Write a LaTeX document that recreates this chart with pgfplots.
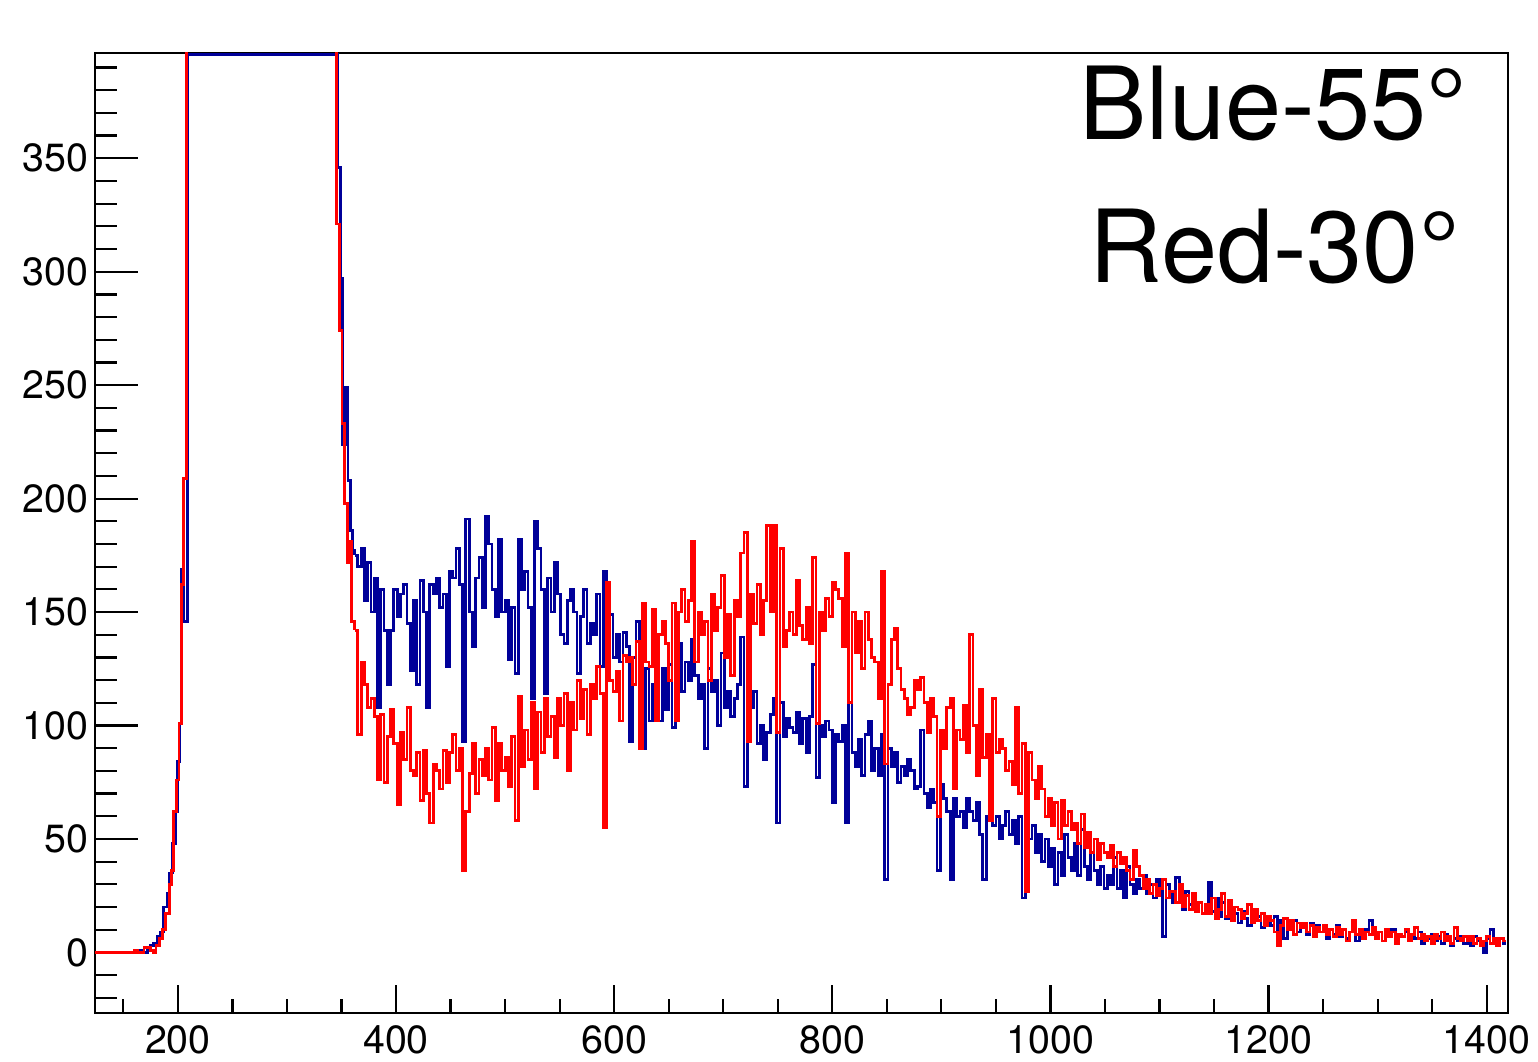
\documentclass[border=0pt]{standalone}
\usepackage{fontspec}
\setmainfont{TeX Gyre Heros}
\usepackage{pgfplots}
\usepackage{pgfplotstable}
\pgfplotsset{compat=1.18}
\definecolor{rootblue}{RGB}{0,0,153}
\definecolor{rootred}{RGB}{255,0,0}

% blue histogram, bins of width 3 starting at 362
\pgfplotstableread[row sep=\\]{y\\
175\\170\\178\\155\\172\\150\\165\\108\\160\\142\\
118\\142\\160\\148\\158\\162\\145\\124\\155\\118\\
164\\150\\108\\162\\158\\165\\152\\158\\126\\168\\
165\\178\\162\\93\\191\\150\\135\\165\\174\\152\\
192\\180\\160\\148\\182\\150\\155\\129\\152\\123\\
182\\160\\168\\152\\112\\190\\178\\160\\114\\165\\
150\\172\\158\\140\\136\\155\\160\\150\\123\\148\\
160\\136\\145\\140\\158\\126\\168\\140\\149\\130\\
140\\128\\141\\135\\93\\130\\146\\128\\90\\125\\
102\\118\\130\\102\\125\\107\\127\\99\\118\\136\\
115\\128\\120\\138\\122\\112\\118\\90\\125\\115\\
120\\100\\132\\108\\115\\104\\112\\118\\139\\73\\
125\\108\\115\\92\\100\\85\\97\\105\\112\\57\\
110\\95\\103\\99\\97\\106\\92\\103\\88\\104\\
127\\77\\100\\95\\102\\98\\66\\96\\93\\100\\
57\\110\\88\\82\\94\\78\\96\\102\\80\\90\\
78\\96\\32\\90\\82\\88\\75\\82\\78\\85\\
80\\72\\73\\98\\70\\64\\72\\66\\36\\74\\
68\\62\\32\\68\\60\\62\\55\\68\\62\\58\\
66\\52\\32\\60\\66\\56\\60\\50\\56\\62\\
52\\58\\48\\60\\24\\55\\50\\56\\44\\52\\
40\\50\\38\\46\\30\\44\\34\\52\\42\\36\\
48\\34\\54\\38\\32\\44\\36\\30\\38\\28\\
34\\30\\42\\28\\36\\24\\38\\30\\26\\32\\
28\\34\\26\\30\\24\\32\\27\\7\\30\\26\\
22\\33\\24\\19\\27\\21\\25\\18\\22\\17\\
20\\31\\18\\24\\16\\22\\15\\19\\14\\17\\
13\\18\\15\\12\\17\\14\\16\\11\\15\\13\\
12\\16\\8\\14\\6\\13\\10\\14\\9\\12\\
11\\8\\13\\7\\12\\9\\11\\6\\10\\8\\
12\\7\\10\\6\\9\\11\\5\\9\\7\\10\\
14\\8\\6\\9\\5\\8\\7\\10\\6\\8\\
7\\9\\5\\8\\6\\9\\4\\7\\6\\8\\
5\\7\\4\\8\\6\\3\\6\\5\\7\\4\\
6\\3\\7\\5\\4\\0\\6\\10\\5\\3\\
6\\4\\4\\
}\blueH

% red histogram, bins of width 3 starting at 362
\pgfplotstableread[row sep=\\]{y\\
142\\96\\128\\118\\108\\112\\104\\76\\105\\75\\
95\\107\\92\\65\\97\\85\\108\\80\\78\\88\\
67\\89\\70\\57\\83\\80\\72\\89\\75\\88\\
96\\80\\90\\36\\62\\79\\92\\70\\85\\78\\
90\\76\\99\\67\\92\\80\\86\\73\\95\\58\\
113\\82\\98\\85\\110\\72\\106\\88\\112\\95\\
104\\86\\112\\100\\114\\80\\110\\98\\120\\103\\
116\\96\\118\\112\\126\\114\\55\\163\\120\\115\\
124\\102\\131\\128\\130\\118\\137\\90\\154\\128\\
126\\151\\102\\140\\146\\136\\120\\154\\102\\150\\
160\\146\\155\\181\\128\\150\\140\\146\\120\\158\\
142\\152\\166\\130\\149\\122\\155\\148\\176\\185\\
93\\158\\145\\162\\140\\155\\188\\150\\188\\97\\
178\\135\\142\\150\\140\\164\\144\\138\\152\\136\\
174\\101\\150\\142\\156\\148\\163\\160\\156\\135\\
176\\110\\150\\132\\146\\125\\150\\138\\130\\128\\
112\\168\\83\\118\\138\\143\\125\\116\\112\\105\\
108\\120\\116\\121\\110\\97\\112\\104\\60\\98\\
90\\108\\112\\72\\98\\94\\109\\88\\140\\100\\
78\\116\\86\\96\\58\\112\\88\\94\\90\\80\\
84\\74\\108\\70\\92\\27\\88\\76\\68\\82\\
72\\60\\68\\56\\66\\50\\67\\56\\62\\54\\
57\\48\\61\\46\\53\\44\\50\\41\\48\\44\\
42\\47\\38\\44\\39\\42\\36\\32\\45\\38\\
34\\28\\32\\26\\30\\25\\28\\32\\24\\27\\
27\\22\\30\\20\\25\\19\\26\\18\\22\\17\\
21\\17\\24\\15\\19\\26\\16\\23\\14\\20\\
19\\15\\17\\21\\13\\19\\14\\17\\12\\16\\
14\\9\\3\\12\\15\\10\\14\\8\\13\\11\\
13\\9\\12\\7\\11\\9\\12\\8\\10\\7\\
11\\8\\10\\5\\9\\14\\8\\10\\6\\9\\
8\\11\\6\\9\\5\\10\\7\\9\\4\\8\\
7\\10\\5\\8\\11\\6\\8\\5\\7\\4\\
8\\6\\9\\5\\7\\4\\11\\6\\5\\7\\
5\\7\\4\\6\\3\\5\\7\\4\\6\\3\\
6\\5\\5\\
}\redH

\pgfplotsset{
  myax/.style={
    at={(9.5mm,4.9mm)}, anchor=south west,
    scale only axis, width=141.3mm, height=96.0mm,
    xmin=124, xmax=1419.5, ymin=-26.7, ymax=396.4,
    tick align=inside, tick pos=left,
    axis line style={line width=0.25mm, black},
    tick style={line width=0.22mm, black},
    tick label style={font=\fontsize{11.2}{13}\selectfont},
    /pgf/number format/assume math mode=true,
    /pgf/number format/1000 sep={},
  },
  hist/.style={line width=0.28mm, const plot mark left, mark=none},
}

\begin{document}
\begin{tikzpicture}
\useasboundingbox (0,0) rectangle (153.8mm,106.2mm);
\begin{axis}[myax,
  xtick=\empty,
  ytick={-50,0,50,...,400}, minor y tick num=4,
  major tick length=4.3mm, minor tick length=2.2mm,
  yticklabel style={xshift=0.6mm},
]
% blue: low edge and saturated region
\addplot[hist, rootblue] coordinates {
(124,0)(166,1)(169,0)(172,2)(175,3)(178,4)(181,7)(184,9)(187,20)(190,26)
(192.5,35)(195,48)(197.5,62)(200,84)(201.5,101)(203,169)(205.5,146)
(208.5,395.9)(346.5,346)(349,297)(351,224)(353.5,249)(356,208)(358,186)
(360,177)(362,175)};
\addplot[hist, rootblue] table[x expr=362+3*\coordindex, y=y]{\blueH};
% red
\addplot[hist, rootred] coordinates {
(124,0)(160,1)(163,0)(169,2)(175,1)(178,0)(180,3)(183,6)(186,10)(189,17)
(192,30)(194.5,36)(196,62)(199,76)(201,101)(203.5,162)(205,209)
(208,2000)(345.5,321)(348,274)(350.5,233)(353,198)(355.5,172)(357.5,181)
(359.5,146)(362,142)};
\addplot[hist, rootred] table[x expr=362+3*\coordindex, y=y]{\redH};
\end{axis}
\begin{axis}[myax,
  xtick={0,200,...,1600}, minor x tick num=3,
  ytick=\empty,
  major tick length=2.8mm, minor tick length=1.4mm,
  axis line style={draw=none},
]
\end{axis}
\node[anchor=base east, inner sep=0pt, font=\fontsize{28.7}{34}\selectfont] at (146.8mm,92.2mm) {Blue-55°};
\node[anchor=base east, inner sep=0pt, font=\fontsize{28.7}{34}\selectfont] at (146.0mm,77.9mm) {Red-30°};
\end{tikzpicture}
\end{document}
